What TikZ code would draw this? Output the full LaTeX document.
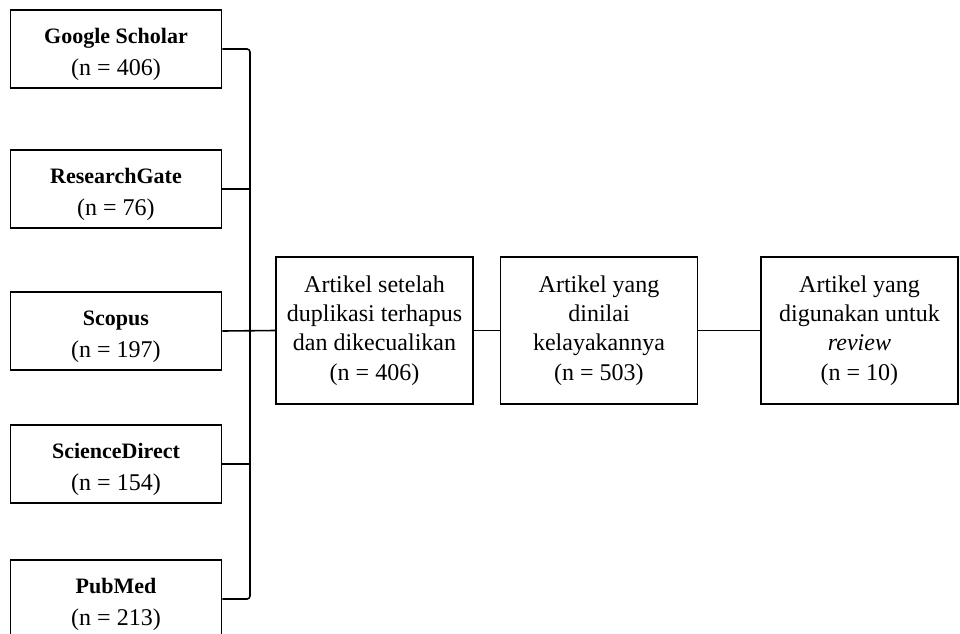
\documentclass[tikz,border=0pt]{standalone}
\usepackage{fontspec}
\setmainfont{Liberation Serif}
\usepackage{tikz}

\tikzset{
  srcbox/.style={draw, line width=0.8pt, minimum width=105.5pt, minimum height=39pt, align=center, inner sep=1pt, font=\fontsize{12}{16}\selectfont},
  stagebox/.style={draw, line width=0.8pt, minimum width=98.5pt, minimum height=73.5pt, align=center, inner sep=1pt, font=\fontsize{12}{14.6}\selectfont},
  link/.style={line width=0.8pt}
}

\begin{document}
\begin{tikzpicture}[x=0.5pt, y=-0.5pt]
	\clip (0,0) rectangle (960,633);
	\foreach \nm/\src/\cnt/\y in {gs/Google Scholar/406/49, rg/ResearchGate/76/189, sc/Scopus/197/331, sd/ScienceDirect/154/464, pm/PubMed/213/599} {
		\node[srcbox] (\nm) at (116,\y) {\rule{0pt}{13pt}{\fontsize{11}{16}\selectfont\textbf{\src}}\\(n = \cnt)};
	}
	\node[stagebox] (a1) at (374.5,330.5) {Artikel setelah\\duplikasi terhapus\\dan dikecualikan\\(n = 406)};
	\node[stagebox] (a2) at (599,330.5) {Artikel yang\\dinilai\\kelayakannya\\(n = 503)};
	\node[stagebox] (a3) at (859.5,330.5) {Artikel yang\\digunakan untuk\\\textit{review}\\(n = 10)};
	\coordinate (bus) at (250,331);
	\draw[link, rounded corners=1.5pt] (gs.east) -| (bus) |- (pm.east);
	\foreach \nm in {rg, sd} {
		\draw[link] (\nm.east) -- (\nm.east -| bus);
	}
	\draw[link] (sc.east) -- (a1.west);
	\draw[link] (a1) -- (a2);
	\draw[link] (a2) -- (a3);
\end{tikzpicture}
\end{document}
